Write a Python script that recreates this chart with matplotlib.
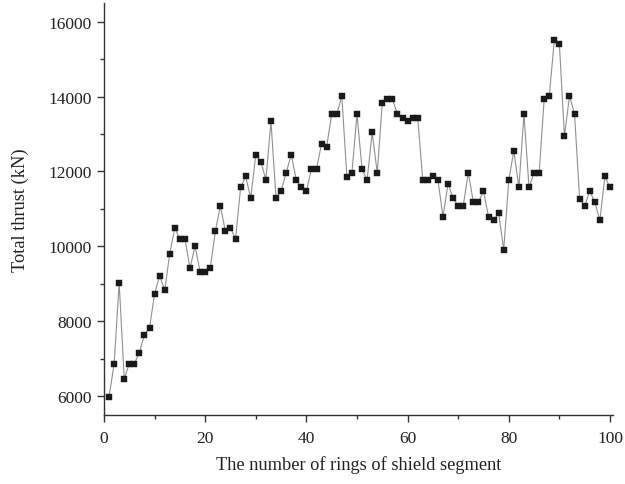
import matplotlib
matplotlib.use("Agg")
import matplotlib.pyplot as plt
from matplotlib.ticker import MultipleLocator

# Ring number and total thrust per ring (kN)
rings = list(range(1, 101))
thrust = [
    5980, 6870, 9020, 6470, 6870, 6870, 7165, 7646, 7833, 8733,
    9222, 8832, 9810, 10488, 10194, 10194, 9420, 10007, 9320, 9320,
    9420, 10398, 11076, 10398, 10496, 10200, 11573, 11867, 11290, 12447,
    12260, 11779, 13337, 11290, 11477, 11966, 12447, 11779, 11584, 11477,
    12064, 12064, 12741, 12652, 13534, 13534, 14015, 11859, 11966, 13534,
    12064, 11771, 13043, 11966, 13828, 13924, 13924, 13534, 13435, 13337,
    13435, 13435, 11771, 11771, 11867, 11771, 10790, 11672, 11280, 11084,
    11084, 11966, 11183, 11183, 11477, 10790, 10692, 10889, 9910, 11771,
    12545, 11573, 13534, 11573, 11966, 11966, 13935, 14015, 15500, 15404,
    12946, 14015, 13534, 11271, 11076, 11477, 11183, 10692, 11867, 11573,
]

x_ticks = [0, 20, 40, 60, 80, 100]
y_ticks = [6000, 8000, 10000, 12000, 14000, 16000]

plt.rcParams['font.family'] = ['Liberation Serif', 'DejaVu Serif']

fig = plt.figure(figsize=(6.25, 4.85), dpi=100)
ax = fig.add_axes([0.1664, 0.1423, 0.8136, 0.8497])

ax.plot(rings, thrust, color='#909090', linewidth=0.8,
        marker='s', markersize=3.8, markerfacecolor='#1a1a1a',
        markeredgecolor='#1a1a1a', markeredgewidth=0.3)

ax.set_xlim(0, 100.5)
ax.set_ylim(5500, 16500)
ax.set_xticks(x_ticks)
ax.set_yticks(y_ticks)
ax.xaxis.set_minor_locator(MultipleLocator(10))
ax.yaxis.set_minor_locator(MultipleLocator(1000))

for side in ('top', 'right'):
    ax.spines[side].set_visible(False)
for side in ('left', 'bottom'):
    ax.spines[side].set_linewidth(1.0)
    ax.spines[side].set_color('#333333')

ax.tick_params(which='major', direction='out', length=5, width=1.0,
               colors='#333333', labelsize=12.5, labelcolor='#222222')
ax.tick_params(axis='x', which='major', pad=5.5)
ax.tick_params(which='minor', direction='out', length=3, width=1.0,
               colors='#333333')

ax.set_xlabel('The number of rings of shield segment', fontsize=13.2,
              color='#222222', labelpad=7)
ax.set_ylabel('Total thrust (kN)', fontsize=13.2, color='#222222',
              labelpad=14)

fig.savefig('out.png', dpi=100)
